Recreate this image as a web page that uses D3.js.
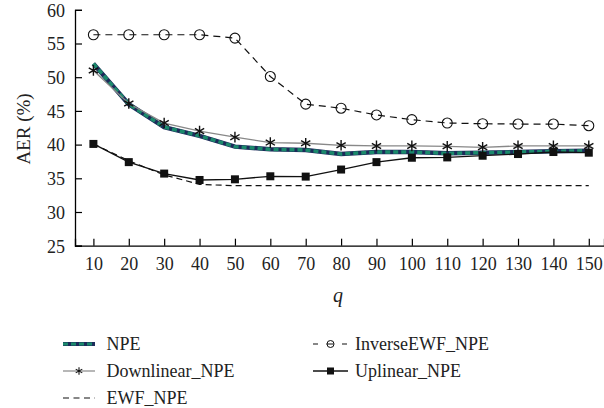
<!DOCTYPE html>
<html>
<head>
<meta charset="utf-8">
<script src="https://cdn.jsdelivr.net/npm/d3@7"></script>
<style>
  body { margin: 0; background: #fff; }
  svg { display: block; font-family: "Liberation Serif", "DejaVu Serif", serif; }
</style>
</head>
<body>
<svg id="chart" width="604" height="408"></svg>
<script>
// q values on the x axis
var qs = [10, 20, 30, 40, 50, 60, 70, 80, 90, 100, 110, 120, 130, 140, 150];
var yTicks = [25, 30, 35, 40, 45, 50, 55, 60];

// AER (%)
var npe = [52.0, 46.0, 42.6, 41.3, 39.7, 39.3, 39.2, 38.6, 38.9, 38.9, 38.7, 38.8, 38.9, 39.0, 39.1];
var downlinear = [51.0, 46.1, 43.2, 42.0, 41.1, 40.3, 40.2, 39.9, 39.8, 39.8, 39.75, 39.6, 39.8, 39.8, 39.8];
var ewf = [40.1, 37.6, 35.5, 34.1, 33.9, 33.9, 33.9, 33.9, 33.9, 33.9, 33.9, 33.9, 33.9, 33.9, 33.9];
var inverseEwf = [56.3, 56.3, 56.3, 56.3, 55.8, 50.1, 46.0, 45.4, 44.4, 43.7, 43.2, 43.1, 43.05, 43.05, 42.8];
var uplinear = [40.1, 37.4, 35.7, 34.75, 34.85, 35.3, 35.25, 36.3, 37.4, 38.05, 38.1, 38.35, 38.6, 38.9, 38.8];

var svg = d3.select("#chart");

var x = d3.scaleLinear().domain([4.8, 154.3]).range([75, 604]);
var y = d3.scaleLinear().domain([25, 60]).range([245.7, 9.8]);

function pts(vals) {
    return qs.map(function(q, i) { return [q, vals[i]]; });
}
var line = d3.line()
    .x(function(d) { return x(d[0]); })
    .y(function(d) { return y(d[1]); });

// axes
var yAxis = d3.axisLeft(y).tickValues(yTicks).tickSize(-7).tickPadding(10);
var gy = svg.append("g").attr("transform", "translate(75,0)").call(yAxis);
gy.select(".domain").attr("stroke", "#000").attr("stroke-width", 1.3);
gy.selectAll(".tick line").attr("stroke", "#000").attr("stroke-width", 1.2);
gy.selectAll("text").attr("font-size", 18).attr("fill", "#222")
    .attr("font-family", "Liberation Serif, serif").attr("dy", "0.35em");

var xAxis = d3.axisBottom(x).tickValues(qs).tickSize(-7).tickPadding(12);
var gx = svg.append("g").attr("transform", "translate(0,245.7)").call(xAxis);
gx.select(".domain").attr("stroke", "#000").attr("stroke-width", 1.3);
gx.selectAll(".tick line").attr("stroke", "#000").attr("stroke-width", 1.2);
gx.selectAll("text").attr("font-size", 18).attr("fill", "#222")
    .attr("font-family", "Liberation Serif, serif");

svg.append("text")
    .attr("transform", "translate(30,129) rotate(-90)")
    .attr("text-anchor", "middle")
    .attr("font-size", 19).attr("fill", "#222")
    .text("AER (%)");

svg.append("text")
    .attr("x", 338).attr("y", 302)
    .attr("text-anchor", "middle")
    .attr("font-size", 20).attr("font-style", "italic").attr("fill", "#222")
    .text("q");

// series
var plot = svg.append("g");

plot.append("path").datum(pts(ewf)).attr("d", line)
    .attr("fill", "none").attr("stroke", "#111").attr("stroke-width", 1.2)
    .attr("stroke-dasharray", "6,4");

plot.append("path").datum(pts(npe)).attr("d", line)
    .attr("fill", "none").attr("stroke", "#1c2b5a").attr("stroke-width", 4.5);
plot.append("path").datum(pts(npe)).attr("d", line)
    .attr("fill", "none").attr("stroke", "#1b8a6c").attr("stroke-width", 3.5)
    .attr("stroke-dasharray", "5,3");

plot.append("path").datum(pts(uplinear)).attr("d", line)
    .attr("fill", "none").attr("stroke", "#111").attr("stroke-width", 1.3);
plot.selectAll("rect.up").data(pts(uplinear)).enter().append("rect")
    .attr("class", "up")
    .attr("x", function(d) { return x(d[0]) - 4; })
    .attr("y", function(d) { return y(d[1]) - 4; })
    .attr("width", 8).attr("height", 8)
    .attr("fill", "#111");

plot.append("path").datum(pts(downlinear)).attr("d", line)
    .attr("fill", "none").attr("stroke", "#888").attr("stroke-width", 1.3);
var star = d3.symbol().type(d3.symbolAsterisk).size(80);
plot.selectAll("path.star").data(pts(downlinear)).enter().append("path")
    .attr("class", "star")
    .attr("transform", function(d) { return "translate(" + x(d[0]) + "," + y(d[1]) + ")"; })
    .attr("d", star)
    .attr("fill", "none").attr("stroke", "#111").attr("stroke-width", 1.4);

plot.append("path").datum(pts(inverseEwf)).attr("d", line)
    .attr("fill", "none").attr("stroke", "#111").attr("stroke-width", 1.2)
    .attr("stroke-dasharray", "7,5");
plot.selectAll("circle.inv").data(pts(inverseEwf)).enter().append("circle")
    .attr("class", "inv")
    .attr("cx", function(d) { return x(d[0]); })
    .attr("cy", function(d) { return y(d[1]); })
    .attr("r", 5)
    .attr("fill", "none").attr("stroke", "#111").attr("stroke-width", 1.1);

// legend
var legendItems = [
    { name: "NPE", col: 0, row: 0, kind: "npe" },
    { name: "Downlinear_NPE", col: 0, row: 1, kind: "down" },
    { name: "EWF_NPE", col: 0, row: 2, kind: "ewf" },
    { name: "InverseEWF_NPE", col: 1, row: 0, kind: "inv" },
    { name: "Uplinear_NPE", col: 1, row: 1, kind: "up" }
];
var colX = [63, 313];
var rowY = [344, 371, 398];

var lg = svg.append("g");
legendItems.forEach(function(it) {
    var x0 = colX[it.col], yy = rowY[it.row];
    var g = lg.append("g");
    if (it.kind === "npe") {
        g.append("line").attr("x1", x0).attr("x2", x0 + 32).attr("y1", yy).attr("y2", yy)
            .attr("stroke", "#1c2b5a").attr("stroke-width", 4);
        g.append("line").attr("x1", x0).attr("x2", x0 + 32).attr("y1", yy).attr("y2", yy)
            .attr("stroke", "#1b8a6c").attr("stroke-width", 3).attr("stroke-dasharray", "5,3");
    } else if (it.kind === "down") {
        g.append("line").attr("x1", x0).attr("x2", x0 + 32).attr("y1", yy).attr("y2", yy)
            .attr("stroke", "#888").attr("stroke-width", 1.2);
        g.append("path").attr("transform", "translate(" + (x0 + 16) + "," + yy + ")")
            .attr("d", d3.symbol().type(d3.symbolAsterisk).size(40))
            .attr("fill", "none").attr("stroke", "#111").attr("stroke-width", 1.1);
    } else if (it.kind === "ewf") {
        g.append("line").attr("x1", x0).attr("x2", x0 + 32).attr("y1", yy).attr("y2", yy)
            .attr("stroke", "#111").attr("stroke-width", 1.2).attr("stroke-dasharray", "6,4.5");
    } else if (it.kind === "inv") {
        g.append("line").attr("x1", x0).attr("x2", x0 + 35).attr("y1", yy).attr("y2", yy)
            .attr("stroke", "#111").attr("stroke-width", 1.1).attr("stroke-dasharray", "5,8.5,7,8.5,5");
        g.append("circle").attr("cx", x0 + 17.5).attr("cy", yy).attr("r", 3.5)
            .attr("fill", "none").attr("stroke", "#111").attr("stroke-width", 1);
    } else if (it.kind === "up") {
        g.append("line").attr("x1", x0).attr("x2", x0 + 35).attr("y1", yy).attr("y2", yy)
            .attr("stroke", "#111").attr("stroke-width", 1.3);
        g.append("rect").attr("x", x0 + 17.5 - 3.5).attr("y", yy - 3.5)
            .attr("width", 7).attr("height", 7).attr("fill", "#111");
    }
    g.append("text")
        .attr("x", it.col === 0 ? 106.5 : 355)
        .attr("y", yy).attr("dy", "0.35em")
        .attr("font-size", 18).attr("fill", "#222")
        .text(it.name);
});
</script>
</body>
</html>
